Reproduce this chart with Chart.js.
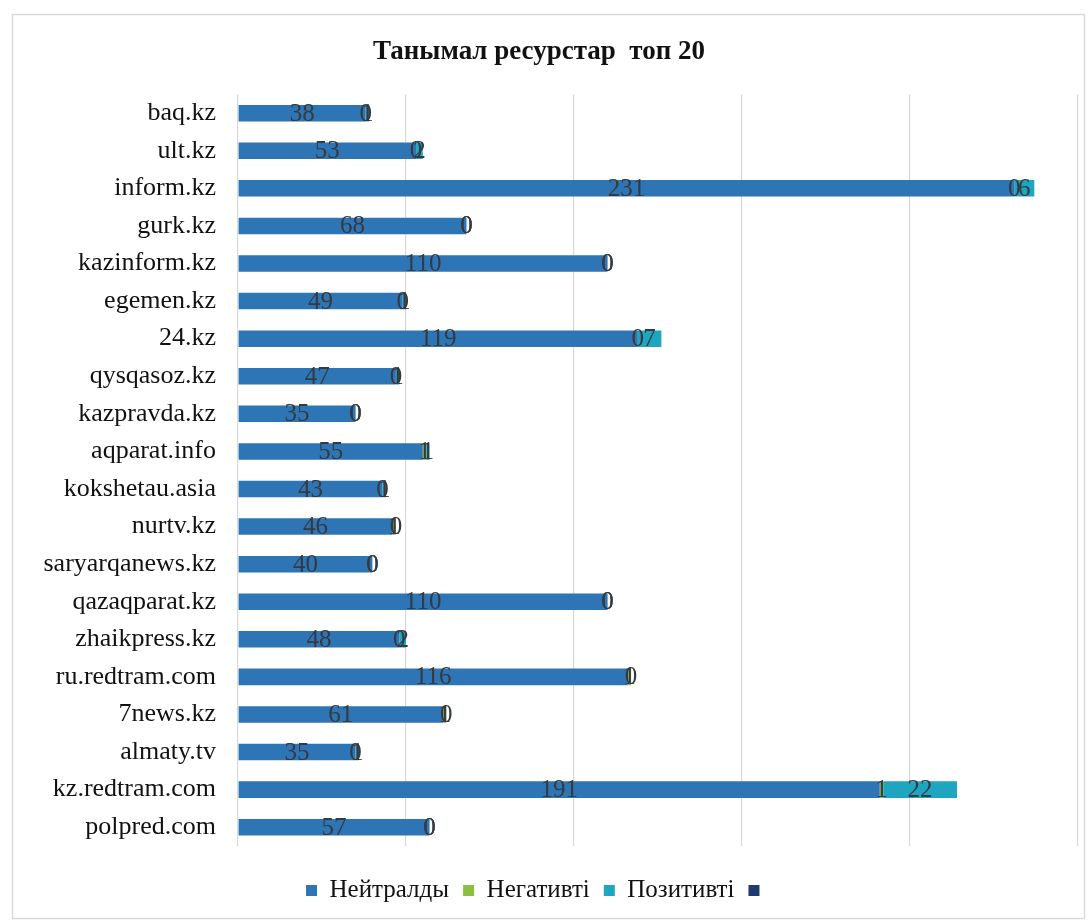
<!DOCTYPE html>
<html>
<head>
<meta charset="utf-8">
<script src="https://cdn.jsdelivr.net/npm/chart.js@4"></script>
<style>
  html, body { margin: 0; padding: 0; background: #fff; }
  #wrap { width: 1092px; height: 923px; }
</style>
</head>
<body>
<div id="wrap"><canvas id="topChart"></canvas></div>
<script>
// ── Data ──────────────────────────────────────────────────────────────────
const sites = [
  'baq.kz', 'ult.kz', 'inform.kz', 'gurk.kz', 'kazinform.kz', 'egemen.kz',
  '24.kz', 'qysqasoz.kz', 'kazpravda.kz', 'aqparat.info', 'kokshetau.asia',
  'nurtv.kz', 'saryarqanews.kz', 'qazaqparat.kz', 'zhaikpress.kz',
  'ru.redtram.com', '7news.kz', 'almaty.tv', 'kz.redtram.com', 'polpred.com'
];
const neutral  = [38, 53, 231, 68, 110, 49, 119, 47, 35, 55, 43, 46, 40, 110, 48, 116, 61, 35, 191, 57];
const negative = [0, 0, 0, 0, 0, 0, 0, 0, 0, 1, 0, 1, 0, 0, 0, 1, 1, 0, 1, 0];
const positive = [1, 2, 6, 0, 0, 1, 7, 1, 0, 1, 1, 0, 0, 0, 2, 0, 0, 1, 22, 0];
const extra    = [0, 0, 0, 0, 0, 0, 0, 0, 0, 0, 0, 0, 0, 0, 0, 0, 0, 0, 0, 0];
const seriesNames = ['Нейтралды', 'Негативті', 'Позитивті', ''];
const xTicks = [0, 50, 100, 150, 200, 250];

const SERIF = '"Liberation Serif", "DejaVu Serif", serif';

// ── Plugins ───────────────────────────────────────────────────────────────
// light frame round the whole chart
const framePlugin = {
  id: 'frame',
  beforeDraw(chart) {
    const ctx = chart.ctx;
    ctx.save();
    ctx.strokeStyle = '#d9d9d9';
    ctx.lineWidth = 1.5;
    ctx.strokeRect(12.5, 14.5, 1072, 904);
    ctx.restore();
  }
};

// value labels centred on each segment (first three series)
const valueLabels = {
  id: 'valueLabels',
  afterDatasetsDraw(chart) {
    const ctx = chart.ctx;
    ctx.save();
    ctx.font = '25px ' + SERIF;
    ctx.fillStyle = '#353a40';
    ctx.textAlign = 'center';
    ctx.textBaseline = 'middle';
    [0, 1, 2].forEach(i => {
      const meta = chart.getDatasetMeta(i);
      meta.data.forEach((bar, j) => {
        const v = chart.data.datasets[i].data[j];
        const cx = (bar.x + bar.base) / 2;
        ctx.fillText(String(v), cx, bar.y + 1);
      });
    });
    ctx.restore();
  }
};

// ── Chart ─────────────────────────────────────────────────────────────────
const colors = ['#2e75b6', '#8cbf3f', '#1ea5c0', '#1f3a70'];
const series = [neutral, negative, positive, extra];

new Chart(document.getElementById('topChart'), {
  type: 'bar',
  data: {
    labels: sites,
    datasets: series.map((d, i) => ({
      label: seriesNames[i],
      data: d,
      backgroundColor: colors[i],
      borderWidth: 0,
      barPercentage: 0.44,
      categoryPercentage: 1
    }))
  },
  options: {
    indexAxis: 'y',
    responsive: true,
    maintainAspectRatio: false,
    animation: false,
    layout: { padding: { top: 28, right: 14, bottom: 10, left: 0 } },
    plugins: {
      title: {
        display: true,
        text: 'Танымал ресурстар  топ 20',
        color: '#111',
        font: { family: SERIF, size: 27, weight: 'bold' },
        padding: { top: 8, bottom: 26 }
      },
      legend: {
        position: 'bottom',
        labels: {
          color: '#111',
          font: { family: SERIF, size: 25 },
          boxWidth: 11,
          boxHeight: 11,
          padding: 14
        }
      },
      tooltip: { enabled: false }
    },
    scales: {
      x: {
        stacked: true,
        min: 0,
        max: 250,
        afterBuildTicks: (scale) => { scale.ticks = xTicks.map(v => ({ value: v })); },
        ticks: { display: false },
        grid: { color: '#d9d9d9', lineWidth: 1.2, drawTicks: false },
        border: { display: false },
        afterFit: (scale) => { scale.height = 18; }
      },
      y: {
        stacked: true,
        ticks: {
          color: '#111',
          font: { family: SERIF, size: 26 },
          padding: 22,
          autoSkip: false
        },
        grid: { display: false, drawTicks: false },
        border: { display: false },
        afterFit: (scale) => { scale.width = 238; }
      }
    }
  },
  plugins: [framePlugin, valueLabels]
});
</script>
</body>
</html>
